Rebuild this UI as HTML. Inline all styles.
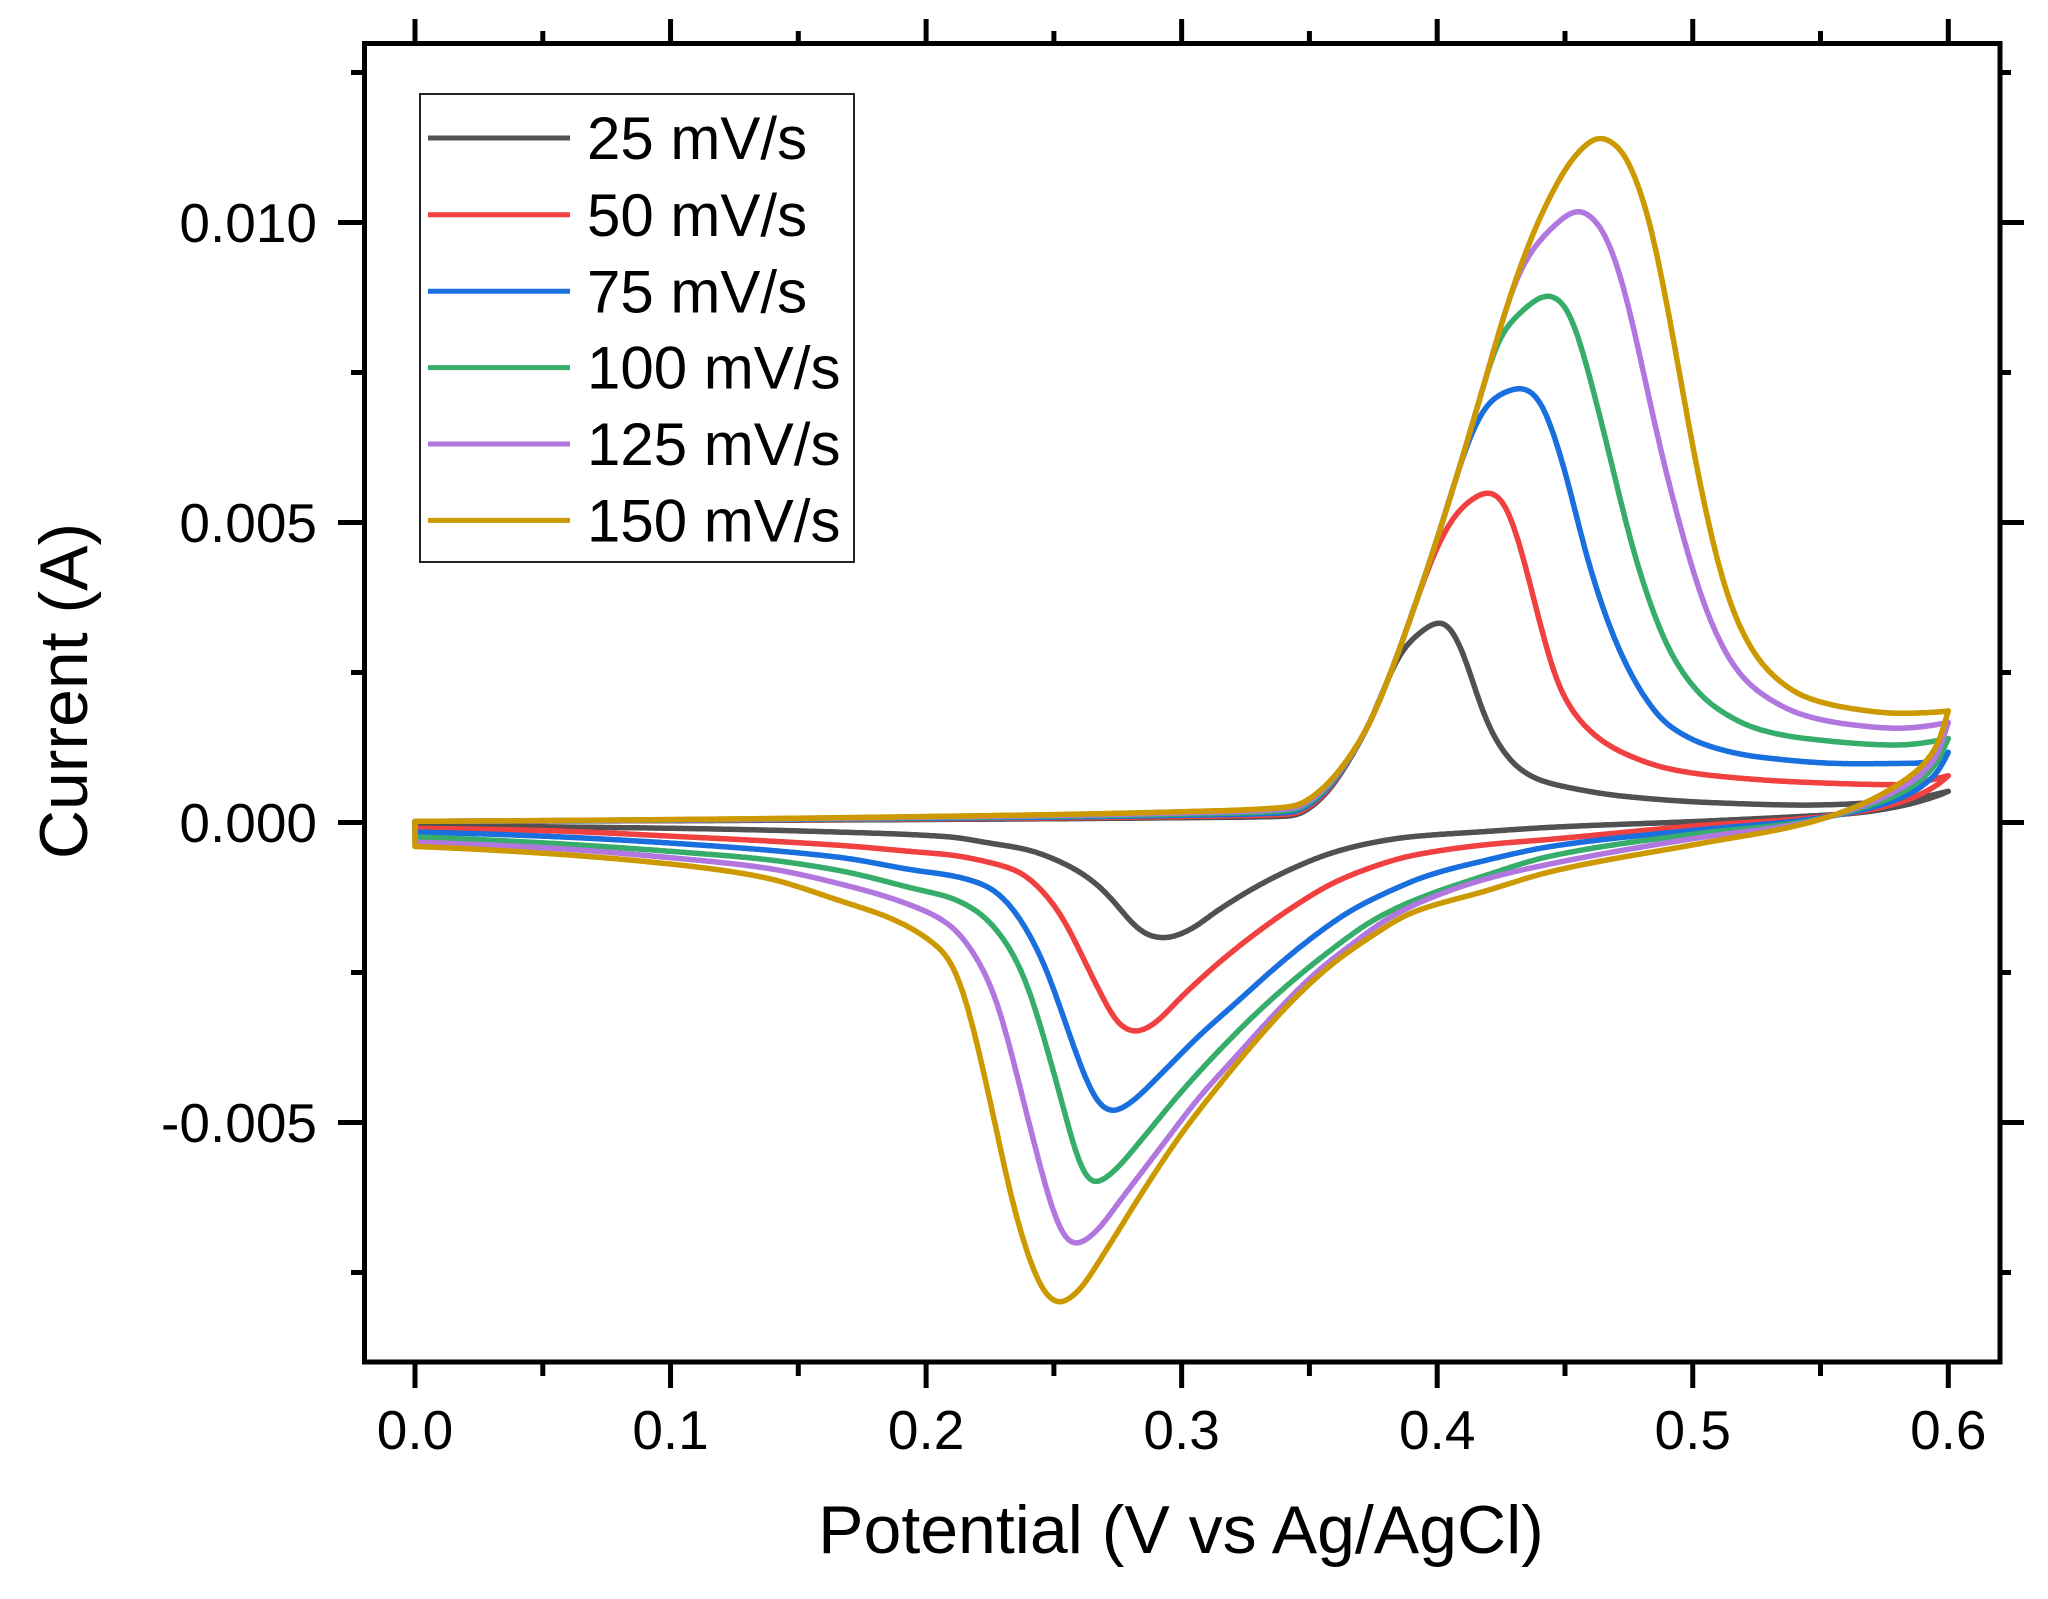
<!DOCTYPE html>
<html>
<head>
<meta charset="utf-8">
<style>
html,body{margin:0;padding:0;background:#fff;}
svg{display:block;}
</style>
</head>
<body>
<svg id="chart" width="2048" height="1599" viewBox="0 0 2048 1599" xmlns="http://www.w3.org/2000/svg" font-family="'Liberation Sans', Arial, sans-serif">
<rect x="0" y="0" width="2048" height="1599" fill="#ffffff"/>
<g id="curves" fill="none" stroke-width="5.5" stroke-linejoin="round" stroke-linecap="round"></g>

<!-- frame -->
<rect x="364.5" y="43.5" width="1635.5" height="1318.5" fill="none" stroke="#000" stroke-width="5"/>

<!-- ticks -->
<g stroke="#000" stroke-width="5" fill="none">
  <path d="M415 1362V1388 M670.55 1362V1388 M926.1 1362V1388 M1181.65 1362V1388 M1437.2 1362V1388 M1692.75 1362V1388 M1948.3 1362V1388"/>
  <path d="M542.8 1362V1376 M798.3 1362V1376 M1053.9 1362V1376 M1309.4 1362V1376 M1565 1362V1376 M1820.5 1362V1376"/>
  <path d="M415 43.5V19 M670.55 43.5V19 M926.1 43.5V19 M1181.65 43.5V19 M1437.2 43.5V19 M1692.75 43.5V19 M1948.3 43.5V19"/>
  <path d="M542.8 43.5V31 M798.3 43.5V31 M1053.9 43.5V31 M1309.4 43.5V31 M1565 43.5V31 M1820.5 43.5V31"/>
  <path d="M364.5 222.5H338 M364.5 522.5H338 M364.5 822.5H338 M364.5 1122.5H338"/>
  <path d="M364.5 72.5H351 M364.5 372.5H351 M364.5 672.5H351 M364.5 972.5H351 M364.5 1272.5H351"/>
  <path d="M2000 222.5H2024 M2000 522.5H2024 M2000 822.5H2024 M2000 1122.5H2024"/>
  <path d="M2000 72.5H2011 M2000 372.5H2011 M2000 672.5H2011 M2000 972.5H2011 M2000 1272.5H2011"/>
</g>

<!-- y tick labels -->
<g font-size="55" fill="#000" text-anchor="end">
  <text x="317" y="242">0.010</text>
  <text x="317" y="542">0.005</text>
  <text x="317" y="842">0.000</text>
  <text x="317" y="1142">-0.005</text>
</g>
<!-- x tick labels -->
<g font-size="55" fill="#000" text-anchor="middle">
  <text x="415" y="1449">0.0</text>
  <text x="670.55" y="1449">0.1</text>
  <text x="926.1" y="1449">0.2</text>
  <text x="1181.65" y="1449">0.3</text>
  <text x="1437.2" y="1449">0.4</text>
  <text x="1692.75" y="1449">0.5</text>
  <text x="1948.3" y="1449">0.6</text>
</g>

<!-- axis titles -->
<text x="1181" y="1553" font-size="68" text-anchor="middle" fill="#000">Potential (V vs Ag/AgCl)</text>
<text transform="translate(87,691) rotate(-90)" font-size="68" text-anchor="middle" fill="#000">Current (A)</text>

<!-- legend -->
<rect x="420" y="94" width="434" height="468" fill="#fff" stroke="#222" stroke-width="2"/>
<g stroke-width="5" fill="none">
  <line x1="428" y1="138" x2="570" y2="138" stroke="#515151"/>
  <line x1="428" y1="214.8" x2="570" y2="214.8" stroke="#F14040"/>
  <line x1="428" y1="291.3" x2="570" y2="291.3" stroke="#1A6FDF"/>
  <line x1="428" y1="367.6" x2="570" y2="367.6" stroke="#37AD6B"/>
  <line x1="428" y1="444" x2="570" y2="444" stroke="#B177DE"/>
  <line x1="428" y1="520.4" x2="570" y2="520.4" stroke="#CC9900"/>
</g>
<g font-size="60" fill="#000">
  <text x="587" y="159">25 mV/s</text>
  <text x="587" y="235.8">50 mV/s</text>
  <text x="587" y="312.3">75 mV/s</text>
  <text x="587" y="388.6">100 mV/s</text>
  <text x="587" y="465">125 mV/s</text>
  <text x="587" y="541.4">150 mV/s</text>
</g>
</svg>

<script>
(function(){
  var X=function(v){return 415+v*2555.5;};
  var Y=function(i){return 822.5-i*60000;};
  function sgn(a){return a>0?1:(a<0?-1:0);}
  function pchip(pts){
    var n=pts.length,h=[],d=[],m=[],i;
    for(i=0;i<n-1;i++){h[i]=pts[i+1][0]-pts[i][0];d[i]=(pts[i+1][1]-pts[i][1])/h[i];}
    for(i=1;i<n-1;i++){
      if(d[i-1]*d[i]<=0)m[i]=0;
      else{var w1=2*h[i]+h[i-1],w2=h[i]+2*h[i-1];m[i]=(w1+w2)/(w1/d[i-1]+w2/d[i]);}
    }
    function es(h0,h1,d0,d1){
      var s=((2*h0+h1)*d0-h0*d1)/(h0+h1);
      if(sgn(s)!==sgn(d0))s=0;
      else if(sgn(d0)!==sgn(d1)&&Math.abs(s)>Math.abs(3*d0))s=3*d0;
      return s;
    }
    m[0]=n>2?es(h[0],h[1],d[0],d[1]):d[0];
    m[n-1]=n>2?es(h[n-2],h[n-3],d[n-2],d[n-3]):d[n-2];
    return function(v){
      var k=0;
      while(k<n-2 && v>pts[k+1][0])k++;
      var hh=h[k],t=(v-pts[k][0])/hh;
      if(t<0)t=0; if(t>1)t=1;
      var t2=t*t,t3=t2*t;
      return (2*t3-3*t2+1)*pts[k][1]+(t3-2*t2+t)*hh*m[k]+(-2*t3+3*t2)*pts[k+1][1]+(t3-t2)*hh*m[k+1];
    };
  }
  var DV=0.0005, N=1201, S=0.0028;
  function sampleSmooth(pts){
    var f=pchip(pts),ys=[],i,j;
    for(i=0;i<N;i++)ys.push(f(i*DV));
    var out=[];
    for(i=0;i<N;i++){
      var sV=Math.min(S,i*DV/3,(N-1-i)*DV/3), s=sV/DV;
      if(s<0.3){out.push(ys[i]);continue;}
      var w=Math.ceil(3*s),sum=0,wt=0;
      for(j=-w;j<=w;j++){
        var idx=i+j; if(idx<0||idx>=N)continue;
        var ww=Math.exp(-0.5*(j/s)*(j/s));
        sum+=ww*ys[idx]; wt+=ww;
      }
      out.push(sum/wt);
    }
    return out;
  }

  function fb(f){
    return [[0,0.00002],[0.1,0.00003+0.00002*f],[0.2,0.00005+0.00005*f],[0.3,0.00008+0.0001*f],
            [0.3442,0.00011+0.00016*f],[0.352,0.0003+0.00015*f],[0.358,0.00055+0.00013*f],[0.3643,0.00095+0.00006*f]];
  }
  var E=[[0.3733,0.00163],[0.3823,0.00255],[0.3913,0.00362],[0.4003,0.00477],[0.4093,0.006],[0.4183,0.0073],
         [0.4272,0.0086],[0.4362,0.00968],[0.4452,0.01052],[0.4542,0.01113],[0.4636,0.01143]];
  function Ecut(c){return E.filter(function(p){return p[0]<=c+1e-9;});}

  var series=[
    {c:'#515151',
     fw:fb(0).concat(Ecut(0.3823),[[0.3859,0.00285],[0.3931,0.00316],[0.3985,0.00332],[0.4024,0.00336],[0.4093,0.00293],[0.4147,0.00224],[0.4183,0.00178],[0.4237,0.00132],[0.4308,0.00094],[0.4398,0.00071],[0.4542,0.00056],[0.4722,0.00044],[0.5081,0.00033],[0.544,0.00029],[0.58,0.00036],[0.6,0.00052]]),
     rv:[[0,-0.00005],[0.046,-0.00007],[0.106,-0.0001],[0.166,-0.00016],[0.2094,-0.00024],[0.2243,-0.00034],[0.2393,-0.00045],[0.2543,-0.00069],[0.2663,-0.00101],[0.2738,-0.00133],[0.2813,-0.00171],[0.2873,-0.00189],[0.2933,-0.00193],[0.3023,-0.00181],[0.3143,-0.00146],[0.3292,-0.00107],[0.3442,-0.00075],[0.3592,-0.0005],[0.3741,-0.00034],[0.3891,-0.00024],[0.4191,-0.00015],[0.4443,-0.00008],[0.503,0.00002],[0.542,0.0001],[0.562,0.00015],[0.581,0.00027],[0.594,0.00042],[0.6,0.00052]]},
    {c:'#F14040',
     fw:fb(0.2).concat(Ecut(0.3913),[[0.3985,0.00445],[0.4057,0.00505],[0.4129,0.00537],[0.4204,0.00552],[0.4255,0.00539],[0.4308,0.00485],[0.4362,0.004],[0.4416,0.00309],[0.447,0.00232],[0.4542,0.00178],[0.4632,0.0014],[0.4722,0.00117],[0.4901,0.0009],[0.5081,0.00078],[0.544,0.00067],[0.58,0.00063],[0.6,0.00078]]),
     rv:[[0,-0.0001],[0.046,-0.00013],[0.106,-0.00024],[0.166,-0.00038],[0.196,-0.00049],[0.2094,-0.00054],[0.2243,-0.00066],[0.2363,-0.00082],[0.2468,-0.0012],[0.2543,-0.00165],[0.2618,-0.00229],[0.2693,-0.00293],[0.2753,-0.00337],[0.282,-0.0035],[0.2888,-0.00337],[0.2993,-0.00293],[0.3142,-0.00235],[0.3292,-0.00184],[0.3442,-0.00139],[0.3592,-0.00101],[0.3741,-0.00075],[0.3891,-0.00056],[0.4191,-0.00037],[0.4443,-0.00028],[0.503,-0.00005],[0.542,0.00006],[0.562,0.00016],[0.581,0.00033],[0.594,0.00058],[0.6,0.00078]]},
    {c:'#1A6FDF',
     fw:fb(0.4).concat(Ecut(0.4093),[[0.4147,0.00662],[0.4219,0.00707],[0.4336,0.00725],[0.4398,0.00707],[0.4452,0.00653],[0.4506,0.00577],[0.4578,0.00454],[0.465,0.00355],[0.4722,0.00278],[0.4811,0.00209],[0.4901,0.00163],[0.5081,0.00125],[0.526,0.00109],[0.562,0.00098],[0.59,0.00099],[0.6,0.00117]]),
     rv:[[0,-0.00016],[0.046,-0.00022],[0.106,-0.00036],[0.166,-0.00058],[0.196,-0.0008],[0.2094,-0.00088],[0.2243,-0.00107],[0.2318,-0.00133],[0.2393,-0.00178],[0.2468,-0.00242],[0.2543,-0.00331],[0.2618,-0.0042],[0.2677,-0.00471],[0.273,-0.00483],[0.2797,-0.00468],[0.2917,-0.0042],[0.3067,-0.00356],[0.3217,-0.00299],[0.3366,-0.00242],[0.3516,-0.0019],[0.3666,-0.00146],[0.3816,-0.00114],[0.3966,-0.00088],[0.4191,-0.00063],[0.4443,-0.0004],[0.503,-0.00012],[0.542,0.00003],[0.562,0.00017],[0.581,0.0004],[0.594,0.00075],[0.6,0.00117]]},
    {c:'#37AD6B',
     fw:fb(0.6).concat(Ecut(0.4183),[[0.4237,0.00803],[0.4308,0.00843],[0.4439,0.0088],[0.4506,0.0086],[0.456,0.00799],[0.4614,0.00715],[0.4686,0.00592],[0.4757,0.00469],[0.4829,0.0037],[0.4901,0.00293],[0.4991,0.00232],[0.5081,0.00194],[0.526,0.00155],[0.544,0.0014],[0.58,0.00129],[0.6,0.0014]]),
     rv:[[0,-0.00024],[0.046,-0.00033],[0.106,-0.0005],[0.136,-0.00061],[0.166,-0.0008],[0.196,-0.00111],[0.2094,-0.00125],[0.2213,-0.00152],[0.2318,-0.00203],[0.2393,-0.00267],[0.2468,-0.00369],[0.2543,-0.00484],[0.2603,-0.00574],[0.2651,-0.00604],[0.2723,-0.00586],[0.2842,-0.00529],[0.2992,-0.00452],[0.3142,-0.00382],[0.3292,-0.00318],[0.3442,-0.00261],[0.3592,-0.0021],[0.3741,-0.00165],[0.3891,-0.00133],[0.4191,-0.00088],[0.4443,-0.00056],[0.503,-0.00018],[0.542,0.0],[0.562,0.00019],[0.581,0.00048],[0.594,0.0009],[0.6,0.0014]]},
    {c:'#B177DE',
     fw:fb(0.8).concat(Ecut(0.4272),[[0.4326,0.00922],[0.4434,0.00985],[0.4556,0.01021],[0.4632,0.00998],[0.4686,0.00952],[0.474,0.00876],[0.4794,0.00776],[0.4865,0.00638],[0.4937,0.00516],[0.5009,0.00408],[0.5081,0.00324],[0.517,0.00255],[0.526,0.00217],[0.544,0.00178],[0.562,0.00163],[0.58,0.00157],[0.6,0.00167]]),
     rv:[[0,-0.00033],[0.046,-0.00041],[0.106,-0.00061],[0.136,-0.00075],[0.166,-0.00102],[0.196,-0.00141],[0.2094,-0.00171],[0.2184,-0.00216],[0.2273,-0.00293],[0.2348,-0.00408],[0.2423,-0.00535],[0.2498,-0.0065],[0.2543,-0.00695],[0.2581,-0.00705],[0.2648,-0.00689],[0.2768,-0.00625],[0.2917,-0.00542],[0.3067,-0.00459],[0.3217,-0.00388],[0.3366,-0.00318],[0.3516,-0.00254],[0.3666,-0.00203],[0.3816,-0.00158],[0.3966,-0.00127],[0.4191,-0.00094],[0.4443,-0.00069],[0.503,-0.00025],[0.542,-0.00002],[0.562,0.00021],[0.581,0.00056],[0.594,0.001],[0.6,0.00167]]},
    {c:'#CC9900',
     fw:fb(1).concat(Ecut(0.4636),[[0.4722,0.01121],[0.4776,0.01075],[0.4829,0.01006],[0.4883,0.00899],[0.4937,0.00776],[0.4991,0.00646],[0.5045,0.00531],[0.5099,0.00431],[0.517,0.00339],[0.526,0.0027],[0.535,0.00232],[0.544,0.00209],[0.562,0.0019],[0.58,0.00182],[0.6,0.00186]]),
     rv:[[0,-0.0004],[0.046,-0.0005],[0.106,-0.00072],[0.136,-0.00091],[0.166,-0.0013],[0.1885,-0.00164],[0.2035,-0.00203],[0.2094,-0.00229],[0.2154,-0.00293],[0.2214,-0.00395],[0.2274,-0.0051],[0.2333,-0.00625],[0.2393,-0.00714],[0.2453,-0.00778],[0.2517,-0.00803],[0.2588,-0.00785],[0.2692,-0.00721],[0.2842,-0.00619],[0.2992,-0.00523],[0.3142,-0.0044],[0.3292,-0.00363],[0.3442,-0.00293],[0.3592,-0.00235],[0.3741,-0.0019],[0.3891,-0.00152],[0.4191,-0.00114],[0.4443,-0.00082],[0.503,-0.00035],[0.542,-0.00004],[0.562,0.00023],[0.581,0.00065],[0.594,0.00115],[0.6,0.00186]]}
  ];

  var g=document.getElementById('curves');
  var NS='http://www.w3.org/2000/svg';
  series.forEach(function(s){
    var fy=sampleSmooth(s.fw), ry=sampleSmooth(s.rv), i;
    var parts=[];
    for(i=0;i<N;i++){
      parts.push((i===0?'M':'L')+X(i*DV).toFixed(1)+' '+Y(fy[i]).toFixed(1));
    }
    for(i=N-1;i>=0;i--){
      parts.push('L'+X(i*DV).toFixed(1)+' '+Y(ry[i]).toFixed(1));
    }
    parts.push('Z');
    var p=document.createElementNS(NS,'path');
    p.setAttribute('d',parts.join(' '));
    p.setAttribute('stroke',s.c);
    g.appendChild(p);
  });
})();
</script>
</body>
</html>
